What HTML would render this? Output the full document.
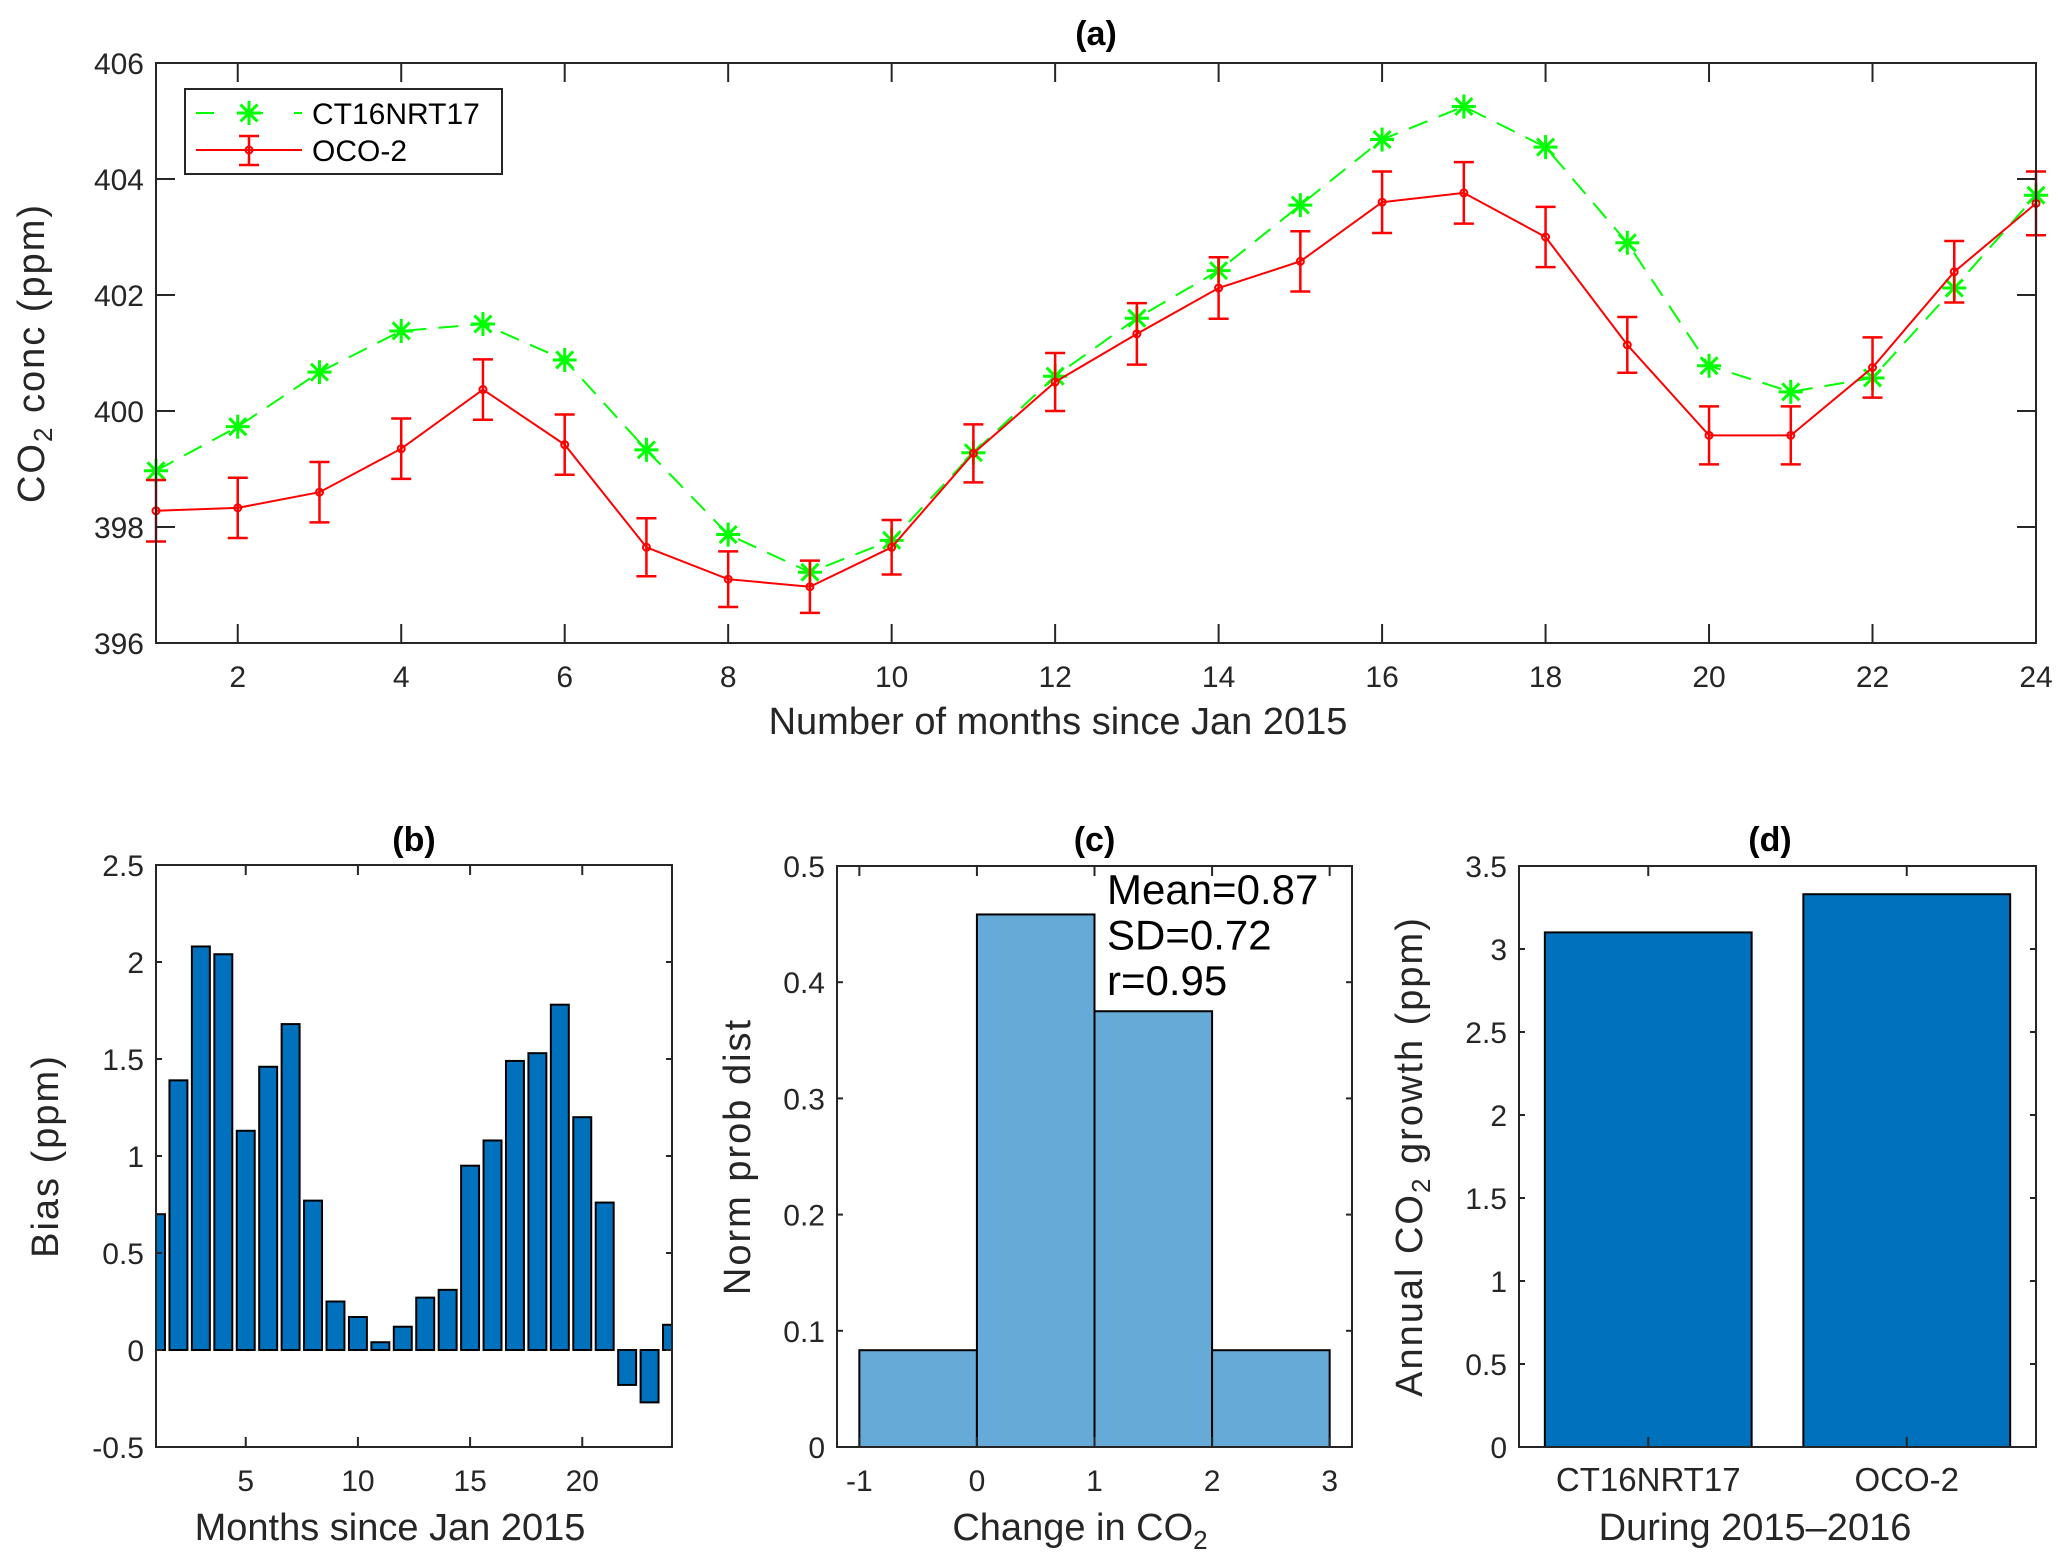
<!DOCTYPE html>
<html><head><meta charset="utf-8"><style>
html,body{margin:0;padding:0;background:#fff;}
svg{display:block;font-family:"Liberation Sans",Arial,sans-serif;}
</style></head><body>
<svg id="fig" width="2067" height="1565" viewBox="0 0 2067 1565" xmlns="http://www.w3.org/2000/svg">
<rect x="0" y="0" width="2067" height="1565" fill="#fff"/>
</svg>
<script>
// ---- Panel (a) data ----
const monthsA = [1,2,3,4,5,6,7,8,9,10,11,12,13,14,15,16,17,18,19,20,21,22,23,24];
const ctValues = [398.97,399.73,400.67,401.38,401.5,400.88,399.33,397.87,397.22,397.77,399.28,400.6,401.6,402.42,403.55,404.68,405.25,404.55,402.9,400.78,400.33,400.57,402.12,403.72];
const ocoValues = [398.28,398.33,398.6,399.35,400.37,399.42,397.65,397.1,396.97,397.65,399.27,400.5,401.33,402.12,402.58,403.6,403.76,403.0,401.14,399.58,399.58,400.75,402.4,403.58];
const ocoErrors = [0.53,0.52,0.52,0.52,0.52,0.52,0.5,0.48,0.45,0.47,0.5,0.5,0.53,0.53,0.52,0.53,0.53,0.52,0.48,0.5,0.5,0.52,0.53,0.55];
const aXTicks = [2,4,6,8,10,12,14,16,18,20,22,24];
const aYTicks = [396,398,400,402,404,406];
// ---- Panel (b) data ----
const biasValues = [0.70,1.39,2.08,2.04,1.13,1.46,1.68,0.77,0.25,0.17,0.04,0.12,0.27,0.31,0.95,1.08,1.49,1.53,1.78,1.20,0.76,-0.18,-0.27,0.13];
const bXTicks = [5,10,15,20];
const bYTicks = [-0.5,0,0.5,1,1.5,2,2.5];
const bYLabels = ["-0.5","0","0.5","1","1.5","2","2.5"];
// ---- Panel (c) data ----
const histEdges = [-1,0,1,2,3];
const histValues = [0.0833,0.4583,0.375,0.0833];
const cXTicks = [-1,0,1,2,3];
const cYTicks = [0,0.1,0.2,0.3,0.4,0.5];
const cYLabels = ["0","0.1","0.2","0.3","0.4","0.5"];
const statLines = ["Mean=0.87","SD=0.72","r=0.95"];
// ---- Panel (d) data ----
const growthCats = ["CT16NRT17","OCO-2"];
const growthValues = [3.10,3.33];
const dYTicks = [0,0.5,1,1.5,2,2.5,3,3.5];
const dYLabels = ["0","0.5","1","1.5","2","2.5","3","3.5"];

const NS = "http://www.w3.org/2000/svg";
const svg = document.getElementById('fig');
function mk(tag, attrs, parent, text){
  const e = document.createElementNS(NS, tag);
  for (const k in attrs) e.setAttribute(k, attrs[k]);
  if (text !== undefined) e.textContent = text;
  (parent||svg).appendChild(e);
  return e;
}
const AX = "#262626";
const TFS = 30;  // tick font size
const LFS = 38;  // axis label font size

function scale(d0,d1,r0,r1){ return v => r0 + (v-d0)/(d1-d0)*(r1-r0); }

function axesBox(g, L, T, R, B){
  const r = mk('rect',{x:L,y:T,width:R-L,height:B-T,fill:'none',stroke:AX,'stroke-width':2},g);
  
  
}
function xTicks(g, ticks, labels, sx, T, B, len, labelY, fs, name){
  ticks.forEach((t,i)=>{
    const x = sx(t);
    const l1 = mk('line',{x1:x,y1:B,x2:x,y2:B-len,stroke:AX,'stroke-width':2},g);
    
    
    const l2 = mk('line',{x1:x,y1:T,x2:x,y2:T+len,stroke:AX,'stroke-width':2},g);
    
    
    const tx = mk('text',{x:x,y:labelY,'font-size':fs,'text-anchor':'middle',fill:AX},g,labels[i]);
    
    
  });
}
function yTicks(g, ticks, labels, sy, L, R, len, fs, name){
  ticks.forEach((t,i)=>{
    const y = sy(t);
    const l1 = mk('line',{x1:L,y1:y,x2:L+len,y2:y,stroke:AX,'stroke-width':2},g);
    
    
    const l2 = mk('line',{x1:R,y1:y,x2:R-len,y2:y,stroke:AX,'stroke-width':2},g);
    
    
    const tx = mk('text',{x:L-12,y:y+11,'font-size':fs,'text-anchor':'end',fill:AX},g,labels[i]);
    
    
  });
}
function title(g, x, y, txt, name){
  const t = mk('text',{x:x,y:y,'font-size':34,'font-weight':'bold','text-anchor':'middle',fill:'#000'},g,txt);
  
  
}
function ylab(g, x, y, name){
  const t = mk('text',{x:x,y:y,'font-size':LFS,'text-anchor':'middle',fill:AX,'letter-spacing':2,transform:`rotate(-90 ${x} ${y})`},g);
  
  
  return t;
}
function asterisk(g, x, y, r, color){
  const grp = mk('g',{},g);
  for (let k=0;k<4;k++){
    const a = k*Math.PI/4 + Math.PI/2;
    mk('line',{x1:x-r*Math.cos(a),y1:y-r*Math.sin(a),x2:x+r*Math.cos(a),y2:y+r*Math.sin(a),stroke:color,'stroke-width':3},grp);
  }
  return grp;
}

// ================= Panel (a) =================
(function(){
  const g = mk('g',{});
  
  
  const L=156,T=63,R=2036,B=643;
  const sx = scale(1,24,L,R), sy = scale(396,406,B,T);
  title(g,(L+R)/2,45,'(a)','panel-a-title');
  const ctPts = monthsA.map((m,i)=>sx(m)+','+sy(ctValues[i])).join(' ');
  const ctl = mk('polyline',{points:ctPts,fill:'none',stroke:'#00ff00','stroke-width':2,'stroke-dasharray':'20,12'},g);
  
  
  monthsA.forEach((m,i)=>{
    const a = asterisk(g,sx(m),sy(ctValues[i]),12,'#00ff00');
    
    
  });
  const ocoPts = monthsA.map((m,i)=>sx(m)+','+sy(ocoValues[i])).join(' ');
  const ol = mk('polyline',{points:ocoPts,fill:'none',stroke:'#ff0000','stroke-width':2},g);
  
  
  monthsA.forEach((m,i)=>{
    const x=sx(m), y1=sy(ocoValues[i]+ocoErrors[i]), y2=sy(ocoValues[i]-ocoErrors[i]);
    const eb = mk('path',{d:`M${x},${y1}V${y2}M${x-10},${y1}H${x+10}M${x-10},${y2}H${x+10}`,stroke:'#ff0000','stroke-width':2.5,fill:'none'},g);
    
    
    const c = mk('circle',{cx:x,cy:sy(ocoValues[i]),r:3.5,fill:'none',stroke:'#ff0000','stroke-width':2},g);
    
    
  });
  axesBox(g,L,T,R,B);
  xTicks(g,aXTicks,aXTicks.map(String),sx,T,B,19,687,TFS,'a-x');
  yTicks(g,aYTicks,aYTicks.map(String),sy,L,R,19,TFS,'a-y');
  const xl = mk('text',{x:1058,y:734,'font-size':LFS,'text-anchor':'middle',fill:AX},g,'Number of months since Jan 2015');
  
  
  const yl = ylab(g,44,(T+B)/2,'a-y-axis-title');
  yl.innerHTML = 'CO<tspan font-size="26" dy="8">2</tspan><tspan dy="-8"> conc (ppm)</tspan>';
  const lg = mk('g',{},g);
  
  
  mk('rect',{x:185,y:89,width:317,height:85,fill:'#fff',stroke:AX,'stroke-width':2},lg);
  mk('line',{x1:196,y1:113,x2:302,y2:113,stroke:'#00ff00','stroke-width':2,'stroke-dasharray':'18,31'},lg);
  asterisk(lg,249,113,12,'#00ff00');
  const t1 = mk('text',{x:312,y:124,'font-size':30,fill:'#000'},lg,'CT16NRT17');
  
  
  mk('line',{x1:196,y1:150,x2:302,y2:150,stroke:'#ff0000','stroke-width':2},lg);
  mk('path',{d:'M249,136V165M239,136H259M239,165H259',stroke:'#ff0000','stroke-width':2.5,fill:'none'},lg);
  mk('circle',{cx:249,cy:150,r:3.5,fill:'none',stroke:'#ff0000','stroke-width':2},lg);
  const t2 = mk('text',{x:312,y:161,'font-size':30,fill:'#000'},lg,'OCO-2');
  
  
})();

// ================= Panel (b) =================
(function(){
  const g = mk('g',{});
  
  
  const L=156,T=865,R=672,B=1447;
  const sx = scale(1,24,L,R), sy = scale(-0.5,2.5,B,T);
  title(g,(L+R)/2,851,'(b)','panel-b-title');
  const cp = mk('clipPath',{id:'clipb'},g);
  mk('rect',{x:L,y:T,width:R-L,height:B-T},cp);
  const bars = mk('g',{'clip-path':'url(#clipb)'},g);
  const w = (sx(2)-sx(1))*0.8;
  biasValues.forEach((v,i)=>{
    const x = sx(i+1)-w/2, y0=sy(0), y1=sy(v);
    const r = mk('rect',{x:x,y:Math.min(y0,y1),width:w,height:Math.abs(y1-y0),fill:'#0072bd',stroke:'#000','stroke-width':2},bars);
    
    
  });
  axesBox(g,L,T,R,B);
  xTicks(g,bXTicks,bXTicks.map(String),sx,T,B,10,1491,TFS,'b-x');
  yTicks(g,bYTicks,bYLabels,sy,L,R,6,TFS,'b-y');
  const xl = mk('text',{x:390,y:1540,'font-size':LFS,'text-anchor':'middle',fill:AX},g,'Months since Jan 2015');
  
  
  const yl = ylab(g,58,(T+B)/2,'b-y-axis-title');
  yl.textContent = 'Bias (ppm)';
})();

// ================= Panel (c) =================
(function(){
  const g = mk('g',{});
  
  
  const L=837,T=866,R=1352,B=1447;
  const sx = scale(-1.19,3.19,L,R), sy = scale(0,0.5,B,T);
  title(g,(L+R)/2,851,'(c)','panel-c-title');
  histValues.forEach((v,i)=>{
    const x0=sx(histEdges[i]), x1=sx(histEdges[i+1]);
    const r = mk('rect',{x:x0,y:sy(v),width:x1-x0,height:B-sy(v),fill:'#66aad7',stroke:'#000','stroke-width':2},g);
    
    
  });
  axesBox(g,L,T,R,B);
  xTicks(g,cXTicks,cXTicks.map(String),sx,T,B,10,1491,TFS,'c-x');
  yTicks(g,cYTicks,cYLabels,sy,L,R,6,TFS,'c-y');
  const xl = mk('text',{x:1080,y:1540,'font-size':LFS,'text-anchor':'middle',fill:AX},g);
  xl.innerHTML = 'Change in CO<tspan font-size="26" dy="9">2</tspan>';
  
  
  const yl = ylab(g,750,(T+B)/2,'c-y-axis-title');
  yl.textContent = 'Norm prob dist';
  statLines.forEach((s,i)=>{
    const t = mk('text',{x:1107,y:904+i*45.5,'font-size':42,fill:'#000'},g,s);
    
    
  });
})();

// ================= Panel (d) =================
(function(){
  const g = mk('g',{});
  
  
  const L=1519,T=866,R=2036,B=1447;
  const sx = scale(0.5,2.5,L,R), sy = scale(0,3.5,B,T);
  title(g,1770,851,'(d)','panel-d-title');
  const w = (sx(2)-sx(1))*0.8;
  growthValues.forEach((v,i)=>{
    const x = sx(i+1)-w/2;
    const r = mk('rect',{x:x,y:sy(v),width:w,height:B-sy(v),fill:'#0072bd',stroke:'#000','stroke-width':2},g);
    
    
  });
  axesBox(g,L,T,R,B);
  xTicks(g,[1,2],growthCats,sx,T,B,10,1491,33,'d-x');
  yTicks(g,dYTicks,dYLabels,sy,L,R,6,TFS,'d-y');
  const xl = mk('text',{x:1755,y:1540,'font-size':LFS,'text-anchor':'middle',fill:AX},g,'During 2015\u20132016');
  
  
  const yl = ylab(g,1422,(T+B)/2,'d-y-axis-title');
  yl.innerHTML = 'Annual CO<tspan font-size="26" dy="8">2</tspan><tspan dy="-8"> growth (ppm)</tspan>';
})();
</script>
</body></html>
